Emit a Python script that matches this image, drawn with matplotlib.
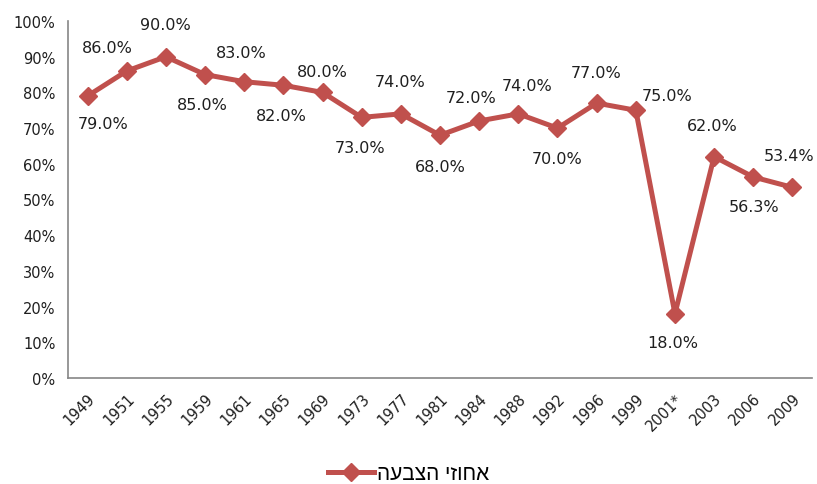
import matplotlib
matplotlib.use("Agg")
import matplotlib.pyplot as plt
from matplotlib.ticker import FuncFormatter

plt.rcParams['font.family'] = ['DejaVu Sans']

years = ['1949', '1951', '1955', '1959', '1961', '1965', '1969', '1973', '1977', '1981',
         '1984', '1988', '1992', '1996', '1999', '2001*', '2003', '2006', '2009']
turnout = [79.0, 86.0, 90.0, 85.0, 83.0, 82.0, 80.0, 73.0, 74.0, 68.0,
           72.0, 74.0, 70.0, 77.0, 75.0, 18.0, 62.0, 56.3, 53.4]
series_name = 'אחוזי הצבעה'

# data label offsets from the point, in pixels (dx right, dy down)
label_dx = [16, -19, 0, -3, -3, -2, 0, -2, -1, 0, -8, 9, 0, -1, 31, -2, -2, 1, -3]
label_dy = [28, -23, -32, 30, -29, 30, -21, 30, -32, 31, -23, -28, 30, -31, -15, 29, -31, 29, -32]

red = '#C0504D'
grey = '#868686'

fig = plt.figure(figsize=(8.17, 4.85), dpi=100)
ax = fig.add_axes([0.0832, 0.2186, 0.9107, 0.736])

x = list(range(len(years)))
# matplotlib draws left-to-right, so the Hebrew name is reversed for display
line, = ax.plot(x, turnout, color=red, lw=3.6, marker='D', ms=9,
                markeredgecolor=red, markerfacecolor=red, label=series_name[::-1])

px = 0.72  # pixels -> points at 100 dpi
for i, v in enumerate(turnout):
    ax.annotate('%.1f%%' % v, (i, v), xytext=(label_dx[i] * px, -label_dy[i] * px),
                textcoords='offset points', ha='center', va='center',
                fontsize=11.5, color='#1f1f1f')

ax.set_xlim(-0.5, len(years) - 0.5)
ax.set_ylim(0, 100)
ax.set_yticks(range(0, 101, 10))
ax.yaxis.set_major_formatter(FuncFormatter(lambda v, p: '%d%%' % v))
ax.set_xticks(x)
ax.set_xticklabels(years, rotation=45, ha='right', rotation_mode='anchor')

for s in ['top', 'right']:
    ax.spines[s].set_visible(False)
for s in ['left', 'bottom']:
    ax.spines[s].set_color(grey)
    ax.spines[s].set_linewidth(1.2)
ax.tick_params(axis='both', length=0, labelsize=10.5, colors='#1f1f1f')
ax.tick_params(axis='y', pad=9)
ax.tick_params(axis='x', pad=9)

leg = fig.legend(handles=[line], loc='center', bbox_to_anchor=(0.5, 0.021),
                 frameon=False, fontsize=15, handlelength=2.2, handletextpad=0.15,
                 borderpad=0)
for t in leg.get_texts():
    t.set_family('Liberation Sans')

fig.savefig('out.png', dpi=100)
